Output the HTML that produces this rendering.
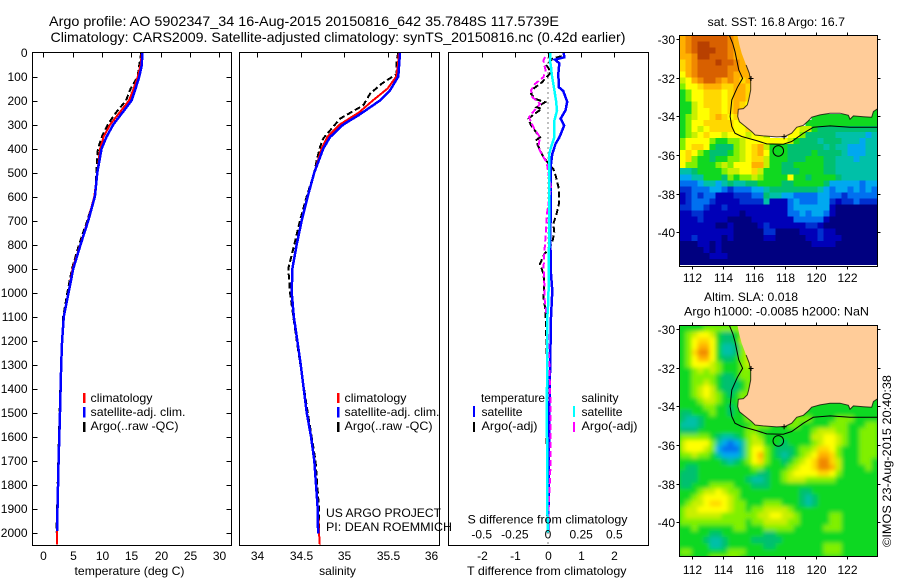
<!DOCTYPE html>
<html lang="en">
<head>
<meta charset="utf-8">
<title>Argo profile 5902347_34</title>
<style>
html,body{margin:0;padding:0;background:#fff;}
svg{display:block;font-family:"Liberation Sans",Arial,sans-serif;font-size:12px;fill:#000;}
.frame{fill:none;stroke:#000;stroke-width:1;shape-rendering:crispEdges;}
.bar{shape-rendering:crispEdges;}
</style>
</head>
<body>
<svg id="chart" xmlns="http://www.w3.org/2000/svg" width="900" height="580" viewBox="0 0 900 580">
<defs>
<clipPath id="clipSst"><rect x="679.5" y="35.5" width="198" height="229.5"/></clipPath>
<clipPath id="clipSla"><rect x="679.5" y="325.5" width="198" height="231"/></clipPath>
<filter id="blurSla" filterUnits="userSpaceOnUse" x="660" y="305" width="240" height="270"><feGaussianBlur stdDeviation="2.2"/></filter>
</defs>
<rect x="0" y="0" width="900" height="580" fill="#fff"/>
<text x="49" y="26" font-size="14" textLength="510" lengthAdjust="spacingAndGlyphs">Argo profile: AO 5902347_34 16-Aug-2015 20150816_642 35.7848S 117.5739E</text>
<text x="50.5" y="42" font-size="14" textLength="575" lengthAdjust="spacingAndGlyphs">Climatology: CARS2009. Satellite-adjusted climatology: synTS_20150816.nc (0.42d earlier)</text>

<g id="panelT"></g>
<g id="panelS"></g>
<g id="panelD"></g>
<g id="mapSst" clip-path="url(#clipSst)"></g>
<g id="mapSla" clip-path="url(#clipSla)"></g>
<g id="axes"></g>

<rect class="frame" x="32.5" y="52.5" width="199" height="493"/>
<rect class="frame" x="239.5" y="52.5" width="200" height="493"/>
<rect class="frame" x="448.5" y="52.5" width="200" height="493"/>
<rect class="frame" x="679.5" y="35.5" width="198" height="231"/>
<rect class="frame" x="679.5" y="325.5" width="198" height="231"/>

<text x="129.5" y="575" text-anchor="middle" textLength="110" lengthAdjust="spacingAndGlyphs">temperature (deg C)</text>
<text x="337.5" y="575" text-anchor="middle">salinity</text>
<text x="467" y="575" textLength="159.5" lengthAdjust="spacingAndGlyphs">T difference from climatology</text>
<text x="467.5" y="523.5" textLength="160" lengthAdjust="spacingAndGlyphs">S difference from climatology</text>

<g>
<rect class="bar" x="83" y="393" width="2.5" height="10" fill="#f00"/>
<rect class="bar" x="83" y="407" width="2.5" height="10.5" fill="#00f"/>
<rect class="bar" x="83" y="422" width="2.5" height="10" fill="#000"/>
<text x="90.5" y="402" textLength="62" lengthAdjust="spacingAndGlyphs">climatology</text>
<text x="90.5" y="416" textLength="95" lengthAdjust="spacingAndGlyphs">satellite-adj. clim.</text>
<text x="90.5" y="430" textLength="88" lengthAdjust="spacingAndGlyphs">Argo(..raw -QC)</text>
</g>
<g>
<rect class="bar" x="337" y="393" width="2.5" height="10" fill="#f00"/>
<rect class="bar" x="337" y="407" width="2.5" height="10.5" fill="#00f"/>
<rect class="bar" x="337" y="422" width="2.5" height="10" fill="#000"/>
<text x="344.5" y="402" textLength="62" lengthAdjust="spacingAndGlyphs">climatology</text>
<text x="344.5" y="416" textLength="95" lengthAdjust="spacingAndGlyphs">satellite-adj. clim.</text>
<text x="344.5" y="430" textLength="88" lengthAdjust="spacingAndGlyphs">Argo(..raw -QC)</text>
</g>
<text x="326" y="517" textLength="115" lengthAdjust="spacingAndGlyphs">US ARGO PROJECT</text>
<text x="326" y="531" textLength="126" lengthAdjust="spacingAndGlyphs">PI: DEAN ROEMMICH</text>
<g>
<text x="481" y="402" textLength="64" lengthAdjust="spacingAndGlyphs">temperature</text>
<text x="581.5" y="402" textLength="37" lengthAdjust="spacingAndGlyphs">salinity</text>
<rect class="bar" x="473" y="406" width="2" height="11" fill="#00f"/>
<rect class="bar" x="473" y="422" width="2" height="10" fill="#000"/>
<rect class="bar" x="573" y="406" width="2" height="11" fill="#0ff"/>
<rect class="bar" x="573" y="422" width="2" height="10" fill="#f0f"/>
<text x="481.5" y="416" textLength="41" lengthAdjust="spacingAndGlyphs">satellite</text>
<text x="481.5" y="430" textLength="56" lengthAdjust="spacingAndGlyphs">Argo(-adj)</text>
<text x="581.5" y="416" textLength="41" lengthAdjust="spacingAndGlyphs">satellite</text>
<text x="581.5" y="430" textLength="56" lengthAdjust="spacingAndGlyphs">Argo(-adj)</text>
</g>
<text x="707.5" y="26" textLength="137.5" lengthAdjust="spacingAndGlyphs">sat. SST: 16.8 Argo: 16.7</text>
<text x="704" y="301" textLength="94" lengthAdjust="spacingAndGlyphs">Altim. SLA: 0.018</text>
<text x="684" y="315.5" textLength="185" lengthAdjust="spacingAndGlyphs">Argo h1000: -0.0085 h2000: NaN</text>
<text transform="translate(891,547) rotate(-90)" textLength="172" lengthAdjust="spacingAndGlyphs">©IMOS 23-Aug-2015 20:40:38</text>
</svg>

<script>
// ---------- profile data ----------
const tempClimDepth = [0,50,100,150,200,250,300,350,400,500,600,700,800,900,1000,1100,1200,1300,1500,1700,1900,2000,2050];
const tempClim      = [16.8,16.6,16.1,15.4,14.6,13.0,11.4,10.3,9.7,9.2,8.7,7.6,6.3,5.0,4.3,3.5,3.2,3.05,2.85,2.6,2.42,2.36,2.36];
const tempSatDepth  = [0,50,100,150,200,255,300,350,400,500,600,700,800,900,1000,1100,1200,1300,1500,1700,1900,1993];
const tempSat       = [16.85,16.81,16.36,15.73,15.05,13.35,11.93,10.8,9.94,9.2,8.8,7.67,6.36,5.11,4.32,3.5,3.2,3.05,2.85,2.6,2.42,2.38];
const tempArgoDepth = [0,30,80,100,150,200,250,300,350,400,500,600,700,800,900,1000,1100,1400,1700,2000];
const tempArgo      = [16.7,16.5,16.2,16.1,14.9,14.1,12.4,11.0,10.0,9.3,9.05,8.8,7.5,6.1,4.9,4.1,3.4,2.9,2.55,2.25];

const salClimDepth  = [0,50,100,150,200,250,300,350,400,500,600,700,800,900,1000,1100,1200,1300,1500,1600,1700,1800,1900,2000,2050];
const salClim       = [35.63,35.62,35.6,35.5,35.33,35.17,34.95,34.81,34.74,34.656,34.58,34.511,34.454,34.404,34.396,34.42,34.46,34.5,34.569,34.618,34.656,34.676,34.695,34.71,34.72];
const salSatDepth   = [0,100,158,200,263,300,353,400,500,600,700,800,900,1000,1100,1200,1300,1500,1600,1700,1800,1900,2004];
const salSat        = [35.643,35.624,35.528,35.413,35.16,34.99,34.837,34.76,34.656,34.58,34.511,34.454,34.404,34.396,34.42,34.46,34.5,34.569,34.618,34.656,34.676,34.695,34.70];
const salArgoDepth  = [0,33,90,103,130,172,220,248,276,317,358,394,450,500,600,700,800,900,1000,1100,1200,1500,1700,1900,1990];
const salArgo       = [35.624,35.605,35.605,35.547,35.432,35.298,35.22,35.087,34.952,34.857,34.76,34.722,34.684,34.656,34.569,34.492,34.426,34.357,34.376,34.414,34.454,34.58,34.67,34.71,34.71];

const dTempSatDepth = [0,5,20,30,45,90,145,160,205,240,276,304,354,380,422,464,644,783,922,992,1103,1500,1800,1990];
const dTempSat      = [0.48,0.48,0.49,0.21,0.34,0.31,0.33,0.46,0.58,0.53,0.38,0.49,0.34,0.23,0.13,0.09,0.08,0.07,0.09,0.13,0.09,0.04,0.02,0.01];
const dSalSatDepth  = [0,33,60,90,158,200,242,283,353,394,422,506,783,1033,1103,1500,1900,2000];
const dSalSat       = [0.018,0.015,0.023,0.028,0.048,0.06,0.068,0.048,0.048,0.023,0.01,0.008,0.008,0.003,-0.005,-0.008,-0.005,0];
const dTempArgoDepth= [15,26,54,82,103,125,151,172,193,207,228,235,256,276,304,353,367,401,436,475,485,512,568,631,672,714,749,790,818,839,881,922,964,1019,1061,1103,1300,1600,1990];
const dTempArgo     = [0.41,0.13,-0.04,0.09,-0.04,-0.19,-0.44,-0.51,-0.39,-0.09,-0.34,-0.19,-0.41,-0.59,-0.51,-0.24,-0.37,-0.26,-0.14,0.09,0.16,0.23,0.33,0.33,0.26,0.16,0.19,0.13,0.03,-0.11,-0.24,-0.14,-0.11,-0.14,-0.09,-0.07,-0.03,-0.04,-0.02];
const dSalArgoDepth = [19,33,75,103,131,158,186,214,242,269,297,318,353,394,429,457,506,561,672,742,797,839,894,964,1019,1103,1300,1500,1700,1900,2000];
const dSalArgo      = [-0.023,-0.035,-0.018,-0.035,-0.098,-0.128,-0.118,-0.06,-0.103,-0.143,-0.123,-0.103,-0.06,-0.073,-0.043,-0.01,0.003,0.023,-0.008,-0.015,-0.023,-0.028,-0.033,-0.028,-0.028,-0.008,0.01,0.02,0.02,0.005,0];
const zeroLineValues= [0,0];
const zeroLineDepth = [0,2050];

// ---------- tick labels ----------
const depthTicks = [0,100,200,300,400,500,600,700,800,900,1000,1100,1200,1300,1400,1500,1600,1700,1800,1900,2000];
const tempTicks  = [0,5,10,15,20,25,30];
const salTicks   = [34,34.5,35,35.5,36];
const salTickLabels = ["34","34.5","35","35.5","36"];
const dTempTicks = [-2,-1,0,1,2];
const dSalTicks  = [-0.5,-0.25,0,0.25,0.5];
const lonTicks   = [112,114,116,118,120,122];
const latTicks   = [30,32,34,36,38,40];

// ---------- map data (one character per grid cell, '.' = land) ----------
const colorLevels = ["#000080","#0000b8","#0030d0","#0070f0","#00a8f0","#00c0a8","#00c070","#10d820","#80f000","#c8f000","#ffff00","#ffd800","#ffb000","#f08800","#d86000","#b84000"];
const sstRows = [
"cdeeeeeedcc","cdeffeeedcc","cdefffeedcc","ccdffeeedccc","bcdeeefeedcc","bcdeeeeeddcc","acdeeeeedccc","9acdeedcdcbc",
"8aabcccbbccb","78aabbbabccb","78aabbbabccb","779abbbabcba",
"779aabbabcca....................7",
"789aabcbabb...........77777777777",
"78aabbbbbaaa.........777777777777",
"78a9abbbbaab.......a9976666666666",
"789abaa9aaa9aa9...aa8666665555545",
"8aaaa877889aaaaaaa976665666555455",
"8abba766689abc9777666666565544455",
"aba87666789abca777666676666544455",
"ab877677889abb9777666777665554555",
"a88777898aaacc9776677777665555555",
"5567777899aab97776667777665555555",
"445577768788987777a77677776555555",
"333455456556677776677777644444344",
"223334432333445666666665434434343",
"123233111222336554433334433233333",
"123332111122225111343334421223222",
"223321121111111111344444410000000",
"112211111101111111334344310000000",
"111211110000111111133333100000000",
"111111001000012111111221000000000",
"111111111000002200001112110000000",
"112111101000001100000112111000000",
"000110100000000000000011110000000",
"000010100000000000000000000000000",
"000001110000000000000000000000000",
"000000000000000000000000000000000"
];
const slaRows = [
"777788888899","789aa9766789","78abba766799","78acca755689","78bdda755689","78acca766789","78aaa9877789","778989877788",
"778888766788","778898766678","7789a9766678","7789a9876788",
"777899877788....................7",
"777788776778..........77777777777",
"667778776779.........777777777777",
"655677777778.......88877778887777",
"555677777777888...887777788877788",
"666777777778877777777789998877888",
"888887655678987777777799aa9877888",
"9aaaa8543458997776777789aa9877888",
"9aaa98433358aa876667889bba8777888",
"889887544458ac87656789accb8777888",
"777777765678ab8776789abddb9777887",
"76677777777788777789aabddc9777787",
"6667777777777667789aaaabba8777777",
"666777777776556778999888887777777",
"667778888777666777777777777777777",
"777899a98877777777776677777777777",
"7789aaaa98777777777765677777777777",
"7899abba988777888777656777777777",
"899aaaaa98878899998777777777777777",
"899999988888899aa99877777887777777",
"888888888887889999887777788777777",
"778777777887778888877777888777777",
"777776677777776677777777777777777",
"777765567777666667777777777777777",
"777775567777776677777777888777777",
"887777778887777777777777888777777",
"777778888877777777777777777777777"
];
const coastLon = [114.94,115.07,115.22,115.5,115.71,115.8,115.8,115.67,115.58,115.33,115.0,114.96,115.07,115.33,115.86,116.08,116.61,117.47,118.0,118.44,118.76,119.19,119.51,119.73,120.26,120.91,121.55,122.09,122.19,122.41,123.05,123.59,123.7,123.95];
const coastLat = [29.79,30.29,30.73,31.33,31.76,32.19,32.63,33.14,33.4,33.59,33.63,34.0,34.27,34.44,34.78,34.96,35.01,35.06,35.04,34.87,34.56,34.46,34.23,34.04,33.92,33.83,33.83,33.94,34.14,33.97,34.01,34.04,33.75,33.61];
const isobathLon = [114.42,114.64,114.79,114.9,115.03,115.28,114.94,114.58,114.47,114.58,114.79,115.22,116.18,116.83,117.9,118.44,119.19,119.83,120.91,122.19,123.95];
const isobathLat = [29.79,30.21,30.64,31.07,31.59,32.02,32.49,33.14,34.0,34.52,34.87,35.04,35.25,35.42,35.44,35.3,34.87,34.56,34.49,34.56,34.56];
const capeLon = [115.82,117.95];
const capeLat = [32.03,35.05];
const argoLon = [117.5739];
const argoLat = [35.7848];

// ---------- axis functions ----------
const SVGNS = "http://www.w3.org/2000/svg";
const yDepth = d => 52.5 + d * 0.24;
const xTemp  = t => 43.3 + t * 5.867;
const xSal   = s => 257.3 + (s - 34) * 86.85;
const xDT    = v => 548 + v * 33.15;
const xDS    = v => 548 + v * 132.6;
const xLon   = lon => 691.7 + (lon - 112) * 15.53;
const ySst   = lat => 39.3 + (lat - 30) * 19.29;
const ySla   = lat => 329.3 + (lat - 30) * 19.29;

function mk(parent, tag) {
  const el = document.createElementNS(SVGNS, tag);
  parent.appendChild(el);
  return el;
}
function drawLine(parent, name, values, depths, xFn, color, width, dash) {
  const el = mk(parent, "polyline");
  
  
  el.setAttribute("points", values.map((v, i) => xFn(v).toFixed(1) + "," + yDepth(depths[i]).toFixed(1)).join(" "));
  el.setAttribute("fill", "none");
  el.setAttribute("stroke", color);
  el.setAttribute("stroke-width", width);
  el.setAttribute("shape-rendering", "crispEdges");
  if (dash) el.setAttribute("stroke-dasharray", dash);
}
function drawTick(parent, x1, y1, x2, y2) {
  const el = mk(parent, "line");
  
  
  el.setAttribute("x1", x1); el.setAttribute("y1", y1);
  el.setAttribute("x2", x2); el.setAttribute("y2", y2);
  el.setAttribute("stroke", "#000");
  el.setAttribute("shape-rendering", "crispEdges");
}
function drawLabel(parent, text, x, y, anchor) {
  const el = mk(parent, "text");
  
  
  el.setAttribute("x", x); el.setAttribute("y", y);
  el.setAttribute("text-anchor", anchor);
  el.textContent = text;
}

// ---------- profile panels ----------
const panelT = document.getElementById("panelT");
drawLine(panelT, "argo-temperature-line", tempArgo, tempArgoDepth, xTemp, "#000", 2, "6 3");
drawLine(panelT, "climatology-temperature-line", tempClim, tempClimDepth, xTemp, "#f00", 2);
drawLine(panelT, "satellite-temperature-line", tempSat, tempSatDepth, xTemp, "#00f", 2.5);

const panelS = document.getElementById("panelS");
drawLine(panelS, "argo-salinity-line", salArgo, salArgoDepth, xSal, "#000", 2, "6 3");
drawLine(panelS, "climatology-salinity-line", salClim, salClimDepth, xSal, "#f00", 2);
drawLine(panelS, "satellite-salinity-line", salSat, salSatDepth, xSal, "#00f", 2.5);

const panelD = document.getElementById("panelD");
drawLine(panelD, "zero-difference-line", zeroLineValues, zeroLineDepth, xDT, "#000", 1, "1 4");
drawLine(panelD, "argo-t-difference-line", dTempArgo, dTempArgoDepth, xDT, "#000", 2, "6 3");
drawLine(panelD, "satellite-t-difference-line", dTempSat, dTempSatDepth, xDT, "#00f", 2.5);
drawLine(panelD, "argo-s-difference-line", dSalArgo, dSalArgoDepth, xDS, "#f0f", 2, "6 3");
drawLine(panelD, "satellite-s-difference-line", dSalSat, dSalSatDepth, xDS, "#0ff", 2.5);

// ---------- axes ----------
const axes = document.getElementById("axes");
depthTicks.forEach(d => {
  const y = Math.round(yDepth(d)) + 0.5;
  if (d > 0) {
    drawTick(axes, 32.5, y, 37.5, y);
    drawTick(axes, 226.5, y, 231.5, y);
  }
  drawLabel(axes, String(d), 27.5, y + 3.5, "end");
});
tempTicks.forEach(t => {
  const x = Math.round(xTemp(t)) + 0.5;
  drawTick(axes, x, 52.5, x, 57.5);
  drawLabel(axes, String(t), x, 560, "middle");
});
salTicks.forEach((s, i) => {
  const x = Math.round(xSal(s)) + 0.5;
  drawTick(axes, x, 52.5, x, 57.5);
  drawLabel(axes, salTickLabels[i], x, 560, "middle");
});
dTempTicks.forEach(t => {
  const x = Math.round(xDT(t)) + 0.5;
  drawTick(axes, x, 52.5, x, 57.5);
  drawLabel(axes, String(t), x, 560, "middle");
});
dSalTicks.forEach(s => {
  drawLabel(axes, String(s), xDS(s), 538.5, "middle");
});
[[ySst, 35.5, 266.5, 282], [ySla, 325.5, 556.5, 574]].forEach(m => {
  const yFn = m[0], top = m[1], bottom = m[2], labelY = m[3];
  lonTicks.forEach(lon => {
    const x = Math.round(xLon(lon)) + 0.5;
    drawTick(axes, x, top - 3, x, top);
    drawTick(axes, x, bottom, x, bottom + 3);
    drawLabel(axes, String(lon), x, labelY, "middle");
  });
  latTicks.forEach(lat => {
    const y = Math.round(yFn(lat)) + 0.5;
    drawTick(axes, 676.5, y, 679.5, y);
    drawTick(axes, 877.5, y, 880.5, y);
    drawLabel(axes, "-" + lat, 675, y + 4.5, "end");
  });
});

// ---------- maps ----------
function drawMap(groupId, rows, yFn, smooth) {
  const g = document.getElementById(groupId);
  const dLon = 0.3864, dLat = 0.3134, lon0 = 111.2, lat0 = 29.79;
  if (smooth) {
    const base = mk(g, "rect");
    
    
    base.setAttribute("x", "670");
    base.setAttribute("y", "315");
    base.setAttribute("width", "220");
    base.setAttribute("height", "250");
    base.setAttribute("fill", colorLevels[7]);
  }
  const cells = mk(g, "g");
  
  
  if (smooth) cells.setAttribute("filter", "url(#blurSla)");
  rows.forEach((rawRow, j) => {
    const clean = rawRow.replace(/ /g, "");
    const row = clean.length > 14 ? clean.padEnd(33, clean[clean.length - 1]).slice(0, 33) : clean;
    for (let i = 0; i < row.length; i++) {
      const ch = row[i];
      if (ch === ".") continue;
      const x0 = xLon(lon0 + i * dLon), x1 = xLon(lon0 + (i + 1) * dLon);
      const y0 = yFn(lat0 + j * dLat), y1 = yFn(lat0 + (j + 1) * dLat);
      const c = mk(cells, "rect");
      
      
      c.setAttribute("x", x0.toFixed(1));
      c.setAttribute("y", y0.toFixed(1));
      c.setAttribute("width", (x1 - x0 + 0.5).toFixed(1));
      c.setAttribute("height", (y1 - y0 + 0.5).toFixed(1));
      c.setAttribute("fill", colorLevels[parseInt(ch, 16)]);
      c.setAttribute("shape-rendering", "crispEdges");
    }
  });
  const land = mk(g, "polygon");
  
  
  const pts = coastLon.map((lon, i) => xLon(lon).toFixed(1) + "," + yFn(coastLat[i]).toFixed(1));
  pts.push(xLon(124.2).toFixed(1) + "," + yFn(coastLat[coastLat.length - 1]).toFixed(1));
  pts.push(xLon(124.2).toFixed(1) + "," + yFn(29.5).toFixed(1));
  pts.push(xLon(coastLon[0]).toFixed(1) + "," + yFn(29.5).toFixed(1));
  land.setAttribute("points", pts.join(" "));
  land.setAttribute("fill", "#ffcc99");

  const coast = mk(g, "polyline");
  
  
  coast.setAttribute("points", coastLon.slice(3).map((lon, i) => xLon(lon).toFixed(1) + "," + yFn(coastLat[i + 3]).toFixed(1)).join(" "));
  coast.setAttribute("fill", "none");
  coast.setAttribute("stroke", "#000");
  coast.setAttribute("stroke-width", "1");
  coast.setAttribute("stroke-opacity", "0.75");

  capeLon.forEach((lon, i) => {
    const cx = xLon(lon), cy = yFn(capeLat[i]);
    const cross = mk(g, "path");
    
    
    cross.setAttribute("d", "M" + (cx - 2.5) + " " + cy + "h5M" + cx + " " + (cy - 2.5) + "v5");
    cross.setAttribute("stroke", "#000");
    cross.setAttribute("fill", "none");
  });

  const iso = mk(g, "polyline");
  
  
  iso.setAttribute("points", isobathLon.map((lon, i) => xLon(lon).toFixed(1) + "," + yFn(isobathLat[i]).toFixed(1)).join(" "));
  iso.setAttribute("fill", "none");
  iso.setAttribute("stroke", "#000");
  iso.setAttribute("stroke-width", "1");

  const dot = mk(g, "circle");
  
  
  dot.setAttribute("cx", xLon(argoLon[0]).toFixed(1));
  dot.setAttribute("cy", yFn(argoLat[0]).toFixed(1));
  dot.setAttribute("r", "5.3");
  dot.setAttribute("fill", "none");
  dot.setAttribute("stroke", "#000");
  dot.setAttribute("stroke-width", "1");
}
drawMap("mapSst", sstRows, ySst, false);
drawMap("mapSla", slaRows, ySla, true);
</script>
</body>
</html>
